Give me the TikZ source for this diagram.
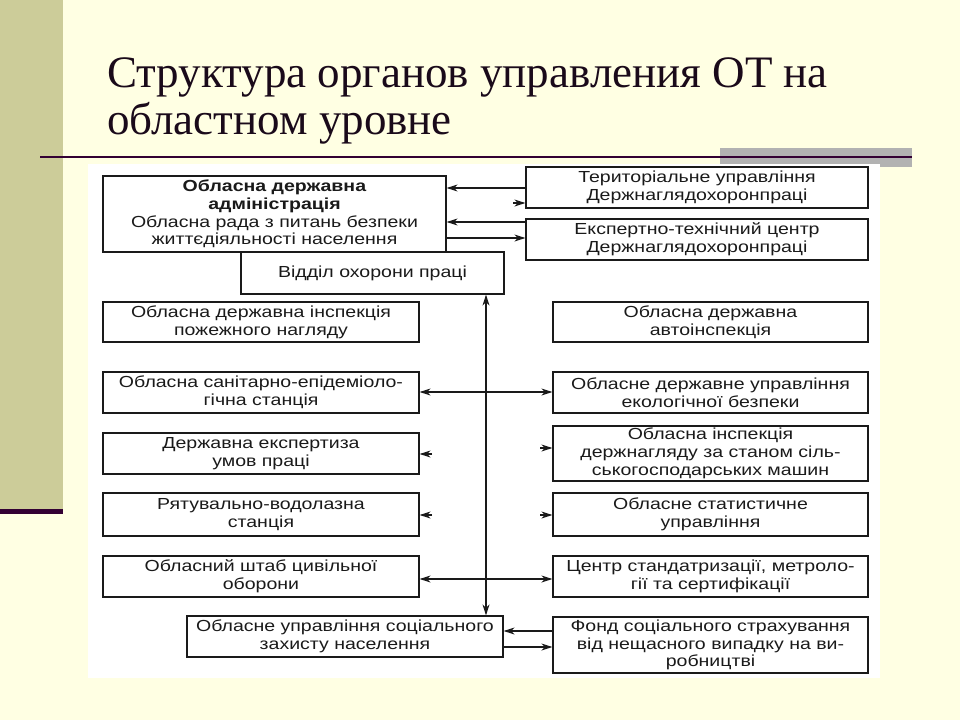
\documentclass[tikz,border=0pt]{standalone}
\usepackage{fontspec}
\setmainfont{Liberation Sans}
\newfontfamily\boxfont[FakeStretch=1.22]{Liberation Sans}
\newfontfamily\titlefont{Liberation Serif}
\usetikzlibrary{arrows.meta}
\definecolor{bgcream}{HTML}{FFFFE3}
\definecolor{stripcol}{HTML}{CCCC99}
\definecolor{plum}{HTML}{330033}
\definecolor{greybar}{HTML}{B2B2B2}
\definecolor{ink}{HTML}{1A1A1A}
\definecolor{titleink}{HTML}{1A0A1A}
\begin{document}
\begin{tikzpicture}[x=1pt,y=-1pt,
  box/.style={draw=ink, line width=1.2pt, fill=white, inner sep=0pt, align=center, text=ink,
    font=\boxfont\fontsize{16}{17.8}\selectfont},
  tip/.tip={Stealth[length=11pt,width=7pt]},
  arr/.style={draw=ink, line width=1.1pt, -tip},
  darr/.style={draw=ink, line width=1.1pt, tip-tip},
  ttl/.style={anchor=base west, inner sep=0pt, text=titleink, font=\titlefont\fontsize{45}{46}\selectfont}
]
\useasboundingbox (0,0) rectangle (960,720);
% background
\fill[bgcream] (0,0) rectangle (960,720);
\fill[stripcol] (0,0) rectangle (63,509);
\fill[plum] (0,509) rectangle (63,514);
\fill[greybar] (720,148) rectangle (912,167);
\draw[plum, line width=2pt] (40,157) -- (912,157);
% title
\node[ttl] (t1) at (107,87) {Структура органов управления ОТ на};
\node[ttl] (t2) at (107,134) {областном уровне};
% white panel
\fill[white] (88,164) rectangle (880,678);

% boxes
\node[box, minimum width=343pt, minimum height=76pt] (adm) at (274.5,214)
  {\textbf{Обласна державна}\\ \textbf{адміністрація}\\ Обласна рада з питань безпеки\\ життєдіяльності населення};
\node[box, minimum width=263pt, minimum height=42pt] (vid) at (372.5,273) {Відділ охорони праці};
\node[box, minimum width=342pt, minimum height=41pt] (terr) at (697,187.5) {Територіальне управління\\ Держнаглядохоронпраці};
\node[box, minimum width=342pt, minimum height=41pt] (expc) at (697,239.5) {Експертно-технічний центр\\ Держнаглядохоронпраці};
\node[box, minimum width=316pt, minimum height=40pt] (pozh) at (261,322) {Обласна державна інспекція\\ пожежного нагляду};
\node[box, minimum width=315pt, minimum height=40pt] (avto) at (710.5,322) {Обласна державна\\ автоінспекція};
\node[box, minimum width=316pt, minimum height=41pt] (san) at (261,392.5) {Обласна санітарно-епідеміоло-\\ гічна станція};
\node[box, minimum width=316pt, minimum height=41pt] (ekspz) at (261,453.5) {Державна експертиза\\ умов праці};
\node[box, minimum width=316pt, minimum height=43pt] (ryat) at (261,514.5) {Рятувально-водолазна\\ станція};
\node[box, minimum width=316pt, minimum height=41pt] (shtab) at (261,576.5) {Обласний штаб цивільної\\ оборони};
\node[box, minimum width=316pt, minimum height=41pt] (soc) at (345,636.5) {Обласне управління соціального\\ захисту населення};
\node[box, minimum width=315pt, minimum height=41pt] (eko) at (710.5,392.5) {Обласне державне управління\\ екологічної безпеки};
\node[box, minimum width=315pt, minimum height=55pt] (silg) at (710.5,453.5) {Обласна інспекція\\ держнагляду за станом сіль-\\ ськогосподарських машин};
\node[box, minimum width=315pt, minimum height=43pt] (stat) at (710.5,514.5) {Обласне статистичне\\ управління};
\node[box, minimum width=315pt, minimum height=41pt] (stand) at (710.5,576.5) {Центр стандатризації, метроло-\\ гії та сертифікації};
\node[box, minimum width=315pt, minimum height=56pt] (fond) at (710.5,645) {Фонд соціального страхування\\ від нещасного випадку на ви-\\ робництві};

% helper coordinates
\coordinate (y188) at (0,188);
\coordinate (y222) at (0,222);
\coordinate (y238) at (0,238);
\coordinate (y392) at (0,392);
\coordinate (y579) at (0,579);
\coordinate (y631) at (0,631);
\coordinate (y647) at (0,647);
\coordinate (vx) at (486,0);
\coordinate (s1) at (513,203);
\coordinate (s2) at (432,454);
\coordinate (s3) at (432,515);
\coordinate (s4) at (540,448);
\coordinate (s5) at (540,515);

% connectors
\draw[arr] (terr.west |- y188) -- (adm.east |- y188);
\draw[arr] (expc.west |- y222) -- (adm.east |- y222);
\draw[arr] (adm.east |- y238) -- (expc.west |- y238);
\draw[arr] (s1) -- (terr.west |- s1);
\draw[darr] (vx |- vid.south) -- (vx |- soc.north);
\draw[darr] (san.east |- y392) -- (eko.west |- y392);
\draw[arr] (s2) -- (ekspz.east |- s2);
\draw[arr] (s3) -- (ryat.east |- s3);
\draw[arr] (s4) -- (silg.west |- s4);
\draw[arr] (s5) -- (stat.west |- s5);
\draw[darr] (shtab.east |- y579) -- (stand.west |- y579);
\draw[arr] (fond.west |- y631) -- (soc.east |- y631);
\draw[arr] (soc.east |- y647) -- (fond.west |- y647);
\end{tikzpicture}
\end{document}
